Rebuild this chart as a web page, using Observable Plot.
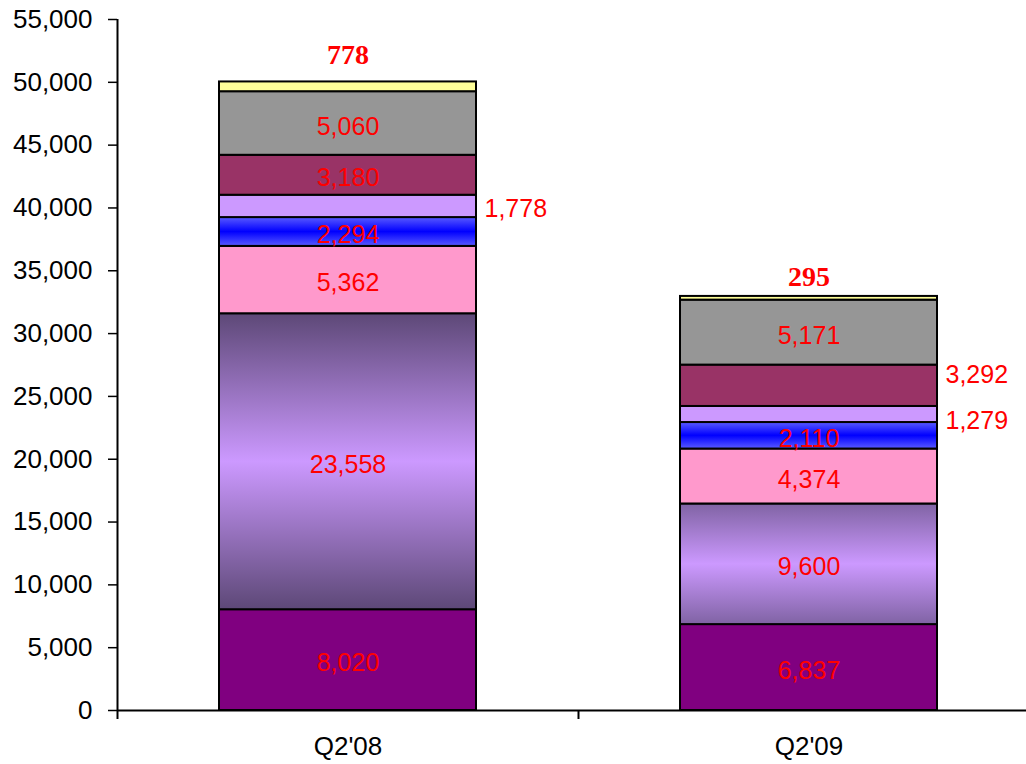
<!DOCTYPE html>
<html><head><meta charset="utf-8">
<script src="https://cdn.jsdelivr.net/npm/d3@7"></script>
<script src="https://cdn.jsdelivr.net/npm/@observablehq/plot@0.6"></script>
<style>html,body{margin:0;padding:0;background:#fff} svg{display:block}</style>
</head><body><div id="chart"></div>
<script>
// ---- data (segments listed bottom to top) ----
const quarters = ["Q2'08", "Q2'09"];
const valuesQ208 = [8020, 23558, 5362, 2294, 1778, 3180, 5060, 778];
const valuesQ209 = [6837, 9600, 4374, 2110, 1279, 3292, 5171, 295];
const yTicks = [0, 5000, 10000, 15000, 20000, 25000, 30000, 35000, 40000, 45000, 50000, 55000];

// ---- styling ----
const segmentFills = [
  ["#800080", "url(#gPurple1)", "#ff99cc", "url(#gBlue)", "#cc99ff", "#993366", "#969696", "#ffff99"],
  ["#800080", "url(#gPurple2)", "#ff99cc", "url(#gBlue)", "#cc99ff", "#993366", "#969696", "#ffff99"]
];
// labels drawn to the right of the bar, with a small vertical nudge (px)
const outsideLabels = [
  {qi: 0, seg: 4, dy: 3},
  {qi: 1, seg: 5, dy: -11},
  {qi: 1, seg: 4, dy: 7}
];
const topNudge = [-27, -19];

const allValues = [valuesQ208, valuesQ209];
const rows = [];
quarters.forEach((q, qi) => {
  let base = 0;
  allValues[qi].forEach((v, si) => {
    rows.push({quarter: q, qi, seg: si, value: v, y1: base, y2: base + v, mid: base + v / 2, fill: segmentFills[qi][si]});
    base += v;
  });
});
const isOutside = d => outsideLabels.some(o => o.qi === d.qi && o.seg === d.seg);
const fmt = d3.format(",");

const step = 461, inset = 102;
const sans = "'Liberation Sans', Arial, sans-serif";

const marks = [
  Plot.barY(rows, {x: "quarter", y1: "y1", y2: "y2", fill: "fill", stroke: "#000", strokeWidth: 2, insetLeft: inset, insetRight: inset}),
  // inside labels
  Plot.text(rows, {filter: d => d.seg < 7 && !isOutside(d), x: "quarter", y: "mid", text: d => fmt(d.value), dy: 3, fill: "#ff0000", fontSize: 25, fontFamily: sans}),
  // top labels
  ...quarters.map((q, qi) => Plot.text(rows, {filter: d => d.qi === qi && d.seg === 7, x: "quarter", y: "y2", text: d => fmt(d.value), dy: topNudge[qi], fill: "#ff0000", fontSize: 28, fontWeight: "bold", fontFamily: "'Liberation Serif', 'Times New Roman', serif"})),
  // outside labels
  ...outsideLabels.map(o => Plot.text(rows, {filter: d => d.qi === o.qi && d.seg === o.seg, x: "quarter", y: "mid", text: d => fmt(d.value), dx: step / 2 - inset + 8, dy: o.dy, textAnchor: "start", fill: "#ff0000", fontSize: 25, fontFamily: sans})),
  // axes
  Plot.axisY({ticks: yTicks, tickFormat: fmt, tickSize: 9, tickPadding: 16, fontSize: 26, fontFamily: sans, stroke: "#000", strokeWidth: 1.5}),
  Plot.axisX({tickSize: 0, tickPadding: 26, fontSize: 26, fontFamily: sans}),
  Plot.ruleX([quarters[0]], {x: d => d, dx: -step / 2, y1: 0, y2: 55000, stroke: "#000", strokeWidth: 2}),
  Plot.ruleX(quarters, {x: d => d, dx: -step / 2, y1: 0, y2: 0, insetBottom: -9, stroke: "#000", strokeWidth: 2}),
  Plot.ruleY([0], {stroke: "#000", strokeWidth: 2})
];

const plot = Plot.plot({
  width: 1026,
  height: 764,
  marginLeft: 117,
  marginRight: 0,
  marginTop: 19,
  marginBottom: 54,
  style: {fontFamily: sans, fontSize: "26px", color: "#000", background: "#fff"},
  x: {type: "band", domain: quarters, range: [117, 117 + 2 * step], padding: 0, label: null},
  y: {domain: [0, 55000], label: null},
  color: {type: "identity"},
  marks
});

// gradient definitions for the shaded segments
const svg = d3.select(plot);
const defs = svg.insert("defs", ":first-child");
function grad(id, edge, center) {
  const g = defs.append("linearGradient").attr("id", id).attr("x1", 0).attr("y1", 0).attr("x2", 0).attr("y2", 1);
  g.append("stop").attr("offset", "0%").attr("stop-color", edge);
  g.append("stop").attr("offset", "50%").attr("stop-color", center);
  g.append("stop").attr("offset", "100%").attr("stop-color", edge);
}
grad("gPurple1", "#5d4877", "#cc99ff");
grad("gPurple2", "#8063a4", "#cc99ff");
grad("gBlue", "#5a5aff", "#0000ff");

document.getElementById("chart").appendChild(plot);
</script>
</body></html>
